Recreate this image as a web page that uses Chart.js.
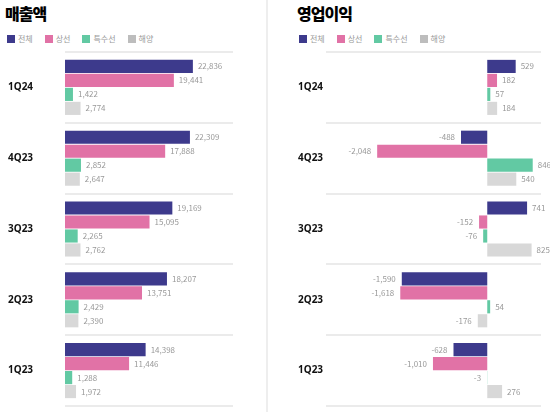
<!DOCTYPE html>
<html>
<head>
<meta charset="utf-8">
<script src="https://cdn.jsdelivr.net/npm/chart.js@4"></script>
<style>
  body { margin: 0; background: #fff; width: 550px; height: 412px; overflow: hidden; font-family: "Noto Sans CJK KR", "Noto Sans", sans-serif; }
  .title { position: absolute; top: 4px; font-size: 16px; font-weight: 900; color: #000; line-height: 19px; letter-spacing: -1px; }
  .legend { position: absolute; top: 34px; display: flex; font-size: 8px; color: #999; line-height: 10px; }
  .legend span { display: flex; align-items: center; margin-right: 12px; }
  .legend i { display: inline-block; width: 8px; height: 8px; margin-right: 3px; }
  .box { position: absolute; top: 45px; height: 367px; }
  .divider { position: absolute; left: 266px; top: 0; width: 2px; height: 412px; background: #eeeeee; }
</style>
</head>
<body>
<div class="divider"></div>
<div class="title" style="left:5px;">매출액</div>
<div class="legend" id="legend-left" style="left:7px;"></div>
<div class="box" style="left:0; width:267px;"><canvas id="chart-left"></canvas></div>

<div class="title" style="left:297px;">영업이익</div>
<div class="legend" id="legend-right" style="left:299px;"></div>
<div class="box" style="left:270px; width:280px;"><canvas id="chart-right"></canvas></div>

<script>
const quarters = ["1Q24", "4Q23", "3Q23", "2Q23", "1Q23"];
const seriesNames = ["전체", "상선", "특수선", "해양"];
const seriesColors = ["#3d3a8c", "#e172a6", "#62c9a3", "#d8d8d8"];
const legendColors = ["#3d3a8c", "#e172a6", "#62c9a3", "#bdbdbd"];

// 매출액
const revenueTotal = [22836, 22309, 19169, 18207, 14398];
const revenueMerchant = [19441, 17888, 15095, 13751, 11446];
const revenueSpecial = [1422, 2852, 2265, 2429, 1288];
const revenueOffshore = [2774, 2647, 2762, 2390, 1972];

// 영업이익
const profitTotal = [529, -488, 741, -1590, -628];
const profitMerchant = [182, -2048, -152, -1618, -1010];
const profitSpecial = [57, 846, -76, 54, -3];
const profitOffshore = [184, 540, 825, -176, 276];

function buildLegend(id) {
    const legend = document.getElementById(id);
    seriesNames.forEach(function (name, i) {
        const item = document.createElement("span");
        const swatch = document.createElement("i");
        swatch.style.background = legendColors[i];
        item.appendChild(swatch);
        item.appendChild(document.createTextNode(name));
        legend.appendChild(item);
    });
}

const valueLabels = {
    id: "valueLabels",
    afterDatasetsDraw(chart) {
        const ctx = chart.ctx;
        ctx.save();
        ctx.font = "8px 'Noto Sans CJK KR', 'Noto Sans', sans-serif";
        ctx.fillStyle = "#999999";
        ctx.textBaseline = "middle";
        chart.data.datasets.forEach(function (dataset, di) {
            const meta = chart.getDatasetMeta(di);
            meta.data.forEach(function (bar, i) {
                const value = dataset.data[i];
                const text = value.toLocaleString("en-US");
                if (value >= 0) {
                    ctx.textAlign = "left";
                    ctx.fillText(text, bar.x + 5, bar.y);
                } else {
                    ctx.textAlign = "right";
                    ctx.fillText(text, Math.min(bar.x, bar.base) - 6, bar.y);
                }
            });
        });
        ctx.restore();
    }
};

function makeChart(canvasId, values, xMin, xMax, padLeft, padRight, axisWidth) {
    const ctx = document.getElementById(canvasId).getContext("2d");
    return new Chart(ctx, {
        type: "bar",
        data: {
            labels: quarters,
            datasets: values.map(function (data, i) {
                return {
                    label: seriesNames[i],
                    data: data,
                    backgroundColor: seriesColors[i],
                    borderWidth: 0,
                    categoryPercentage: 0.79,
                    barPercentage: 0.94,
                };
            }),
        },
        options: {
            indexAxis: "y",
            responsive: true,
            maintainAspectRatio: false,
            animation: false,
            layout: { padding: { left: padLeft, right: padRight, top: 7, bottom: 3 } },
            plugins: {
                legend: { display: false },
                title: { display: false },
                tooltip: { enabled: false },
            },
            scales: {
                x: {
                    display: false,
                    min: xMin,
                    max: xMax,
                },
                y: {
                    grid: {
                        offset: true,
                        color: "#ebebeb",
                        lineWidth: 2,
                        drawTicks: false,
                    },
                    border: { display: false },
                    ticks: {
                        color: "#111111",
                        crossAlign: "far",
                        padding: 0,
                        font: { family: "'Noto Sans', 'Noto Sans CJK KR', sans-serif", size: 10, weight: "bold" },
                    },
                    afterFit: function (scale) {
                        scale.width = axisWidth;
                    },
                },
            },
        },
        plugins: [valueLabels],
    });
}

buildLegend("legend-left");
buildLegend("legend-right");

makeChart("chart-left",
    [revenueTotal, revenueMerchant, revenueSpecial, revenueOffshore],
    0, 30000, 8, 34, 57);

makeChart("chart-right",
    [profitTotal, profitMerchant, profitSpecial, profitOffshore],
    -3000, 1000, 28, 9, 28);
</script>
</body>
</html>
